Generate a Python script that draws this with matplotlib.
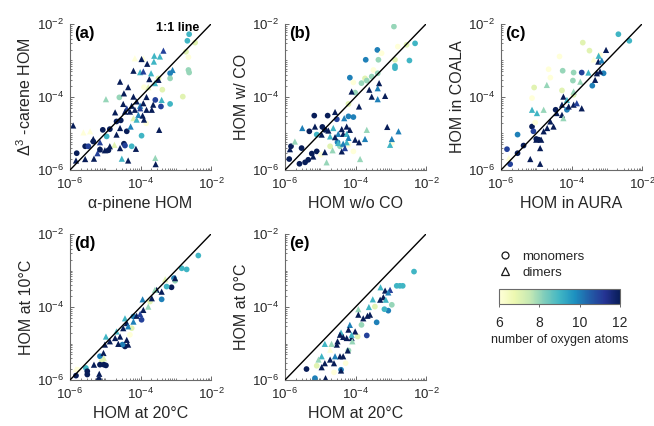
import numpy as np
import matplotlib
matplotlib.use("Agg")
import matplotlib.pyplot as plt
from matplotlib.ticker import FixedLocator, LogLocator, NullFormatter, LogFormatterSciNotation
from matplotlib.lines import Line2D

plt.rcParams['font.family'] = ['Liberation Sans', 'DejaVu Sans']
plt.rcParams['mathtext.fontset'] = 'custom'
plt.rcParams['mathtext.rm'] = 'Liberation Sans'
plt.rcParams['mathtext.it'] = 'Liberation Sans:italic'
plt.rcParams['mathtext.bf'] = 'Liberation Sans:bold'

# Each row: (log10 of x signal, log10 of y signal, number of oxygen atoms)
a_monomers = [
    (-2.62, -2.28, 9), (-2.67, -2.46, 9), (-2.45, -2.51, 7), (-2.71, -2.76, 7),
    (-2.64, -2.91, 6), (-2.64, -3.26, 8), (-2.62, -3.33, 8), (-3.16, -3.35, 10),
    (-3.16, -3.49, 8), (-3.49, -3.49, 7), (-3.90, -3.73, 6), (-3.38, -3.80, 7),
    (-2.80, -3.99, 7), (-4.60, -4.01, 8), (-3.58, -4.08, 11), (-3.16, -4.19, 9),
    (-3.42, -4.26, 11), (-4.56, -4.64, 12), (-4.68, -4.67, 12), (-3.84, -4.72, 6),
    (-4.39, -4.94, 12), (-4.87, -4.88, 12), (-5.07, -4.90, 12), (-4.96, -5.08, 9),
    (-3.97, -5.06, 9), (-5.81, -5.54, 12), (-5.57, -5.35, 12), (-5.48, -5.35, 11),
    (-5.34, -5.22, 12), (-5.15, -5.44, 12), (-4.91, -5.46, 12), (-4.47, -5.28, 12),
    (-4.44, -5.33, 11), (-4.25, -5.35, 9),
]
a_dimers = [
    (-3.35, -2.73, 11), (-3.61, -2.87, 9), (-3.45, -2.89, 9), (-4.16, -2.94, 6),
    (-3.92, -2.94, 6), (-3.97, -2.96, 12), (-3.81, -3.09, 12), (-3.62, -3.03, 9),
    (-3.09, -3.26, 10), (-4.20, -3.28, 12), (-4.01, -3.32, 9), (-3.92, -3.30, 11),
    (-4.58, -3.58, 12), (-3.75, -3.51, 12), (-3.70, -3.35, 9), (-3.49, -3.53, 12),
    (-3.59, -3.62, 9), (-3.78, -3.73, 7), (-4.35, -3.73, 12), (-4.98, -4.06, 8),
    (-4.47, -3.90, 12), (-4.20, -3.99, 12), (-3.83, -4.00, 12), (-3.40, -4.08, 9),
    (-3.64, -4.21, 12), (-4.49, -4.19, 12), (-4.39, -4.31, 11), (-4.25, -4.24, 12),
    (-4.11, -4.12, 12), (-4.01, -4.24, 10), (-3.92, -4.17, 12), (-4.44, -4.40, 12),
    (-4.30, -4.40, 12), (-4.16, -4.35, 12), (-4.01, -4.31, 11), (-3.83, -4.35, 12),
    (-3.68, -4.35, 12), (-4.72, -4.42, 12), (-4.06, -4.49, 10), (-4.20, -4.58, 7),
    (-4.11, -4.62, 9), (-3.94, -4.51, 12), (-3.90, -4.62, 12), (-3.47, -4.90, 12),
    (-4.28, -4.81, 10), (-4.58, -4.85, 12), (-5.91, -4.78, 12), (-5.62, -4.97, 6),
    (-5.43, -4.94, 6), (-5.34, -5.15, 12), (-5.15, -5.24, 11), (-4.68, -5.03, 12),
    (-4.74, -5.31, 7), (-4.87, -5.35, 12), (-5.15, -5.43, 12), (-5.01, -5.46, 12),
    (-4.58, -5.40, 12), (-4.13, -5.42, 12), (-5.83, -5.74, 12), (-5.57, -5.70, 12),
    (-5.32, -5.69, 12), (-5.22, -5.54, 11), (-4.53, -5.69, 9), (-4.35, -5.74, 12),
    (-3.58, -5.67, 8), (-3.57, -5.84, 12),
]

b_monomers = [
    (-2.91, -2.07, 8), (-2.80, -2.62, 6), (-2.55, -2.57, 7), (-2.31, -2.53, 9),
    (-3.38, -2.71, 10), (-3.26, -2.80, 6), (-3.71, -2.98, 10), (-3.35, -2.98, 8),
    (-2.88, -2.98, 7), (-2.47, -3.00, 9), (-2.88, -3.15, 9), (-2.88, -3.21, 9),
    (-3.49, -3.26, 6), (-3.37, -3.35, 8), (-3.54, -3.44, 8), (-3.73, -3.49, 7),
    (-4.16, -3.47, 10), (-4.06, -3.60, 6), (-3.83, -3.62, 8), (-3.68, -3.55, 8),
    (-4.01, -3.88, 8), (-4.20, -4.19, 7), (-5.17, -4.51, 12), (-4.79, -4.51, 12),
    (-4.53, -4.61, 11), (-4.20, -4.53, 10), (-4.06, -4.55, 10), (-5.31, -4.94, 12),
    (-4.94, -4.82, 12), (-4.87, -4.90, 12), (-5.10, -5.03, 9), (-5.83, -5.35, 12),
    (-5.53, -5.40, 12), (-5.88, -5.70, 12), (-5.59, -5.83, 12), (-5.43, -5.79, 12),
    (-5.34, -5.72, 12), (-5.24, -5.55, 12), (-5.10, -5.49, 12), (-4.72, -5.35, 7),
    (-4.98, -5.58, 6), (-4.51, -5.24, 10), (-4.44, -5.35, 8), (-4.20, -5.31, 6),
    (-4.06, -5.49, 6), (-2.97, -5.26, 6),
]
b_dimers = [
    (-4.11, -3.85, 12), (-3.61, -3.80, 12), (-3.33, -3.62, 12), (-3.37, -3.76, 10),
    (-3.54, -3.99, 12), (-3.16, -3.97, 12), (-3.37, -4.06, 10), (-3.90, -4.26, 12),
    (-4.58, -4.41, 12), (-4.32, -4.58, 10), (-5.51, -4.85, 10), (-5.15, -4.81, 12),
    (-4.77, -4.92, 12), (-4.63, -4.85, 9), (-4.39, -4.88, 12), (-4.25, -4.81, 12),
    (-4.16, -4.90, 12), (-4.49, -5.01, 10), (-4.35, -5.01, 12), (-4.25, -5.01, 9),
    (-3.68, -4.90, 8), (-4.96, -5.03, 12), (-4.72, -5.08, 9), (-4.58, -5.10, 12),
    (-4.20, -5.12, 10), (-4.25, -5.24, 9), (-4.49, -5.26, 9), (-4.35, -5.28, 10),
    (-4.01, -5.17, 12), (-3.90, -5.24, 12), (-3.73, -5.15, 10), (-3.10, -4.82, 12),
    (-2.78, -4.94, 10), (-2.97, -5.15, 10), (-3.02, -5.31, 9), (-5.72, -5.22, 8),
    (-5.86, -5.43, 12), (-4.65, -5.46, 8), (-4.87, -5.51, 12), (-5.20, -5.63, 12),
    (-4.39, -5.49, 12), (-4.30, -5.40, 11), (-4.82, -5.79, 8), (-3.87, -5.70, 8),
]

c_monomers = [
    (-2.67, -2.28, 9), (-2.36, -2.46, 9), (-3.68, -2.51, 7), (-3.49, -2.73, 7),
    (-4.34, -2.89, 6), (-3.19, -2.85, 6), (-4.65, -3.24, 6), (-4.60, -3.47, 6),
    (-4.25, -3.28, 8), (-3.94, -3.33, 8), (-3.96, -3.55, 8), (-3.71, -3.33, 11),
    (-3.41, -3.69, 10), (-5.06, -3.74, 7), (-5.12, -4.03, 6), (-4.27, -3.82, 7),
    (-3.94, -3.94, 7), (-4.45, -4.35, 12), (-5.12, -4.81, 12), (-5.08, -4.94, 11),
    (-5.53, -5.03, 10), (-5.00, -5.15, 12), (-4.93, -5.17, 12), (-5.36, -5.33, 12),
    (-5.83, -5.43, 11), (-5.53, -5.54, 12), (-5.74, -5.84, 11), (-4.13, -4.35, 10),
    (-3.09, -3.35, 10), (-5.03, -4.70, 6),
]
c_dimers = [
    (-3.02, -2.71, 12), (-3.23, -2.87, 9), (-3.37, -2.97, 6), (-3.24, -3.03, 12),
    (-3.14, -3.00, 10), (-3.52, -3.33, 9), (-3.28, -3.35, 12), (-3.19, -3.30, 12),
    (-3.75, -3.58, 8), (-3.33, -3.53, 12), (-4.70, -3.67, 8), (-5.12, -4.35, 9),
    (-4.98, -4.44, 9), (-4.79, -4.35, 8), (-4.23, -3.99, 12), (-4.13, -4.08, 9),
    (-3.94, -3.85, 8), (-4.08, -4.26, 12), (-4.27, -4.21, 12), (-3.94, -4.21, 12),
    (-3.85, -4.17, 11), (-3.71, -4.31, 12), (-4.42, -4.44, 12), (-4.27, -4.49, 12),
    (-4.23, -4.58, 8), (-4.60, -4.67, 12), (-4.69, -4.85, 12), (-4.51, -4.81, 12),
    (-4.79, -4.94, 12), (-5.00, -5.17, 12), (-4.86, -5.17, 12), (-4.89, -5.40, 12),
    (-5.17, -5.70, 12), (-4.89, -5.83, 12), (-5.78, -5.67, 6),
]

d_monomers = [
    (-2.36, -2.59, 9), (-2.83, -2.94, 9), (-2.69, -2.97, 9), (-3.05, -3.21, 10),
    (-3.02, -3.28, 8), (-3.12, -3.46, 12), (-3.26, -3.44, 9), (-3.40, -3.79, 10),
    (-3.73, -3.85, 7), (-3.97, -4.35, 11), (-4.20, -4.26, 10), (-4.25, -4.58, 7),
    (-4.30, -4.76, 6), (-4.44, -5.08, 12), (-4.51, -5.03, 10), (-5.15, -5.35, 10),
    (-5.10, -5.49, 7), (-5.04, -5.58, 12), (-5.15, -5.58, 12), (-4.98, -5.60, 12),
    (-5.55, -5.67, 9), (-5.51, -5.76, 12), (-5.51, -5.85, 12), (-5.83, -5.88, 12),
    (-5.18, -5.99, 12), (-5.78, -5.72, 6),
]
d_dimers = [
    (-3.02, -3.21, 12), (-3.30, -3.24, 7), (-3.54, -3.53, 12), (-3.40, -3.58, 12),
    (-3.59, -3.53, 8), (-3.68, -3.76, 12), (-3.94, -3.79, 10), (-3.78, -3.99, 8),
    (-3.92, -4.08, 12), (-4.11, -4.24, 12), (-4.01, -4.19, 11), (-4.20, -4.40, 10),
    (-4.39, -4.44, 12), (-4.49, -4.58, 12), (-4.35, -4.53, 10), (-4.44, -4.31, 9),
    (-4.68, -4.67, 9), (-4.98, -4.81, 9), (-4.72, -4.85, 12), (-4.58, -4.81, 12),
    (-4.39, -4.90, 12), (-4.35, -5.03, 12), (-4.63, -5.01, 12), (-4.87, -4.94, 12),
    (-5.01, -5.03, 12), (-5.05, -5.26, 12), (-5.04, -5.40, 7), (-5.32, -5.58, 12),
    (-5.17, -5.83, 12), (-5.83, -5.70, 6),
]

e_monomers = [
    (-2.34, -3.03, 9), (-2.83, -3.42, 9), (-2.74, -3.42, 9), (-2.66, -3.42, 9),
    (-2.97, -3.94, 8), (-3.07, -4.10, 10), (-3.18, -4.06, 9), (-3.45, -3.99, 7),
    (-3.40, -4.42, 10), (-3.68, -4.78, 11), (-3.94, -4.81, 7), (-4.20, -5.19, 8),
    (-4.28, -5.54, 6), (-4.41, -5.72, 10), (-4.61, -5.79, 6), (-5.39, -5.70, 12),
    (-5.15, -5.95, 10), (-5.10, -5.61, 7), (-3.83, -4.49, 8),
]
e_dimers = [
    (-3.29, -3.46, 9), (-3.16, -3.55, 12), (-3.02, -3.53, 11), (-3.07, -3.60, 10),
    (-3.21, -3.73, 12), (-3.51, -3.79, 9), (-3.30, -3.80, 12), (-3.14, -3.80, 9),
    (-3.62, -4.00, 9), (-3.92, -4.06, 8), (-3.92, -4.21, 12), (-3.66, -4.24, 12),
    (-3.59, -4.21, 12), (-3.78, -4.31, 12), (-4.16, -4.49, 10), (-4.41, -4.70, 9),
    (-4.20, -4.62, 12), (-4.01, -4.67, 12), (-4.11, -4.85, 12), (-4.25, -4.85, 12),
    (-4.35, -4.82, 12), (-4.44, -4.76, 12), (-4.09, -4.94, 8), (-4.11, -4.76, 9),
    (-4.53, -5.03, 12), (-4.87, -5.01, 9), (-4.68, -5.01, 8), (-4.51, -4.94, 12),
    (-4.72, -5.17, 6), (-4.22, -5.19, 12), (-4.44, -5.35, 12), (-4.35, -5.35, 12),
    (-4.58, -5.35, 10), (-4.72, -5.44, 12), (-4.96, -5.35, 9), (-5.05, -5.44, 8),
    (-4.87, -5.54, 12), (-4.61, -5.54, 12), (-4.96, -5.65, 12), (-4.41, -5.74, 12),
    (-4.85, -5.95, 12),
]

panel_tags = ['(a)', '(b)', '(c)', '(d)', '(e)']
x_labels = ['α-pinene HOM', 'HOM w/o CO', 'HOM in AURA', 'HOM at 20°C', 'HOM at 20°C']
y_labels = [r'$\Delta^{3}$ -carene HOM', 'HOM w/ CO', 'HOM in COALA',
            'HOM at 10°C', 'HOM at 0°C']
monomer_sets = [a_monomers, b_monomers, c_monomers, d_monomers, e_monomers]
dimer_sets = [a_dimers, b_dimers, c_dimers, d_dimers, e_dimers]

cbar_ticks = [6, 8, 10, 12]
oxygen_range = (6, 12)

W, H = 654, 426
fig = plt.figure(figsize=(W / 100, H / 100), dpi=100)

ax_w, ax_h = 141 / W, 146 / H
lefts = [70 / W, 285 / W, 501 / W, 70 / W, 285 / W]
bottoms = [1 - 170 / H] * 3 + [1 - 380 / H] * 2

spine_col = '#6a6a6a'
text_col = '#262626'
cmap = plt.get_cmap('YlGnBu')

sc = None
for i in range(5):
    ax = fig.add_axes([lefts[i], bottoms[i], ax_w, ax_h])
    ax.set_xscale('log')
    ax.set_yscale('log')
    ax.set_xlim(1e-6, 1e-2)
    ax.set_ylim(1e-6, 1e-2)

    mono = np.array(monomer_sets[i], dtype=float)
    dim = np.array(dimer_sets[i], dtype=float)
    ax.scatter(10 ** mono[:, 0], 10 ** mono[:, 1], c=mono[:, 2], cmap=cmap,
               vmin=oxygen_range[0], vmax=oxygen_range[1], marker='o', s=17,
               linewidths=0, zorder=2)
    sc = ax.scatter(10 ** dim[:, 0], 10 ** dim[:, 1], c=dim[:, 2], cmap=cmap,
                    vmin=oxygen_range[0], vmax=oxygen_range[1], marker='^', s=20,
                    linewidths=0, zorder=2)
    ax.plot([1e-6, 1e-2], [1e-6, 1e-2], color='k', lw=1.0, zorder=3)

    for side in ('top', 'right'):
        ax.spines[side].set_visible(False)
    for side in ('left', 'bottom'):
        ax.spines[side].set_color(spine_col)
        ax.spines[side].set_linewidth(0.8)

    for axis in (ax.xaxis, ax.yaxis):
        axis.set_major_locator(FixedLocator([1e-6, 1e-4, 1e-2]))
        axis.set_major_formatter(LogFormatterSciNotation())
        axis.set_minor_locator(LogLocator(base=10, subs=np.arange(1, 10), numticks=20))
        axis.set_minor_formatter(NullFormatter())
    ax.tick_params(which='both', direction='in', color=spine_col,
                   labelcolor=text_col, labelsize=9.5)
    ax.tick_params(which='major', length=3, width=0.7)
    ax.tick_params(which='minor', length=1.7, width=0.6)
    ax.tick_params(axis='x', pad=5)
    ax.tick_params(axis='y', pad=4)

    ax.set_xlabel(x_labels[i], fontsize=11.5, color=text_col, labelpad=3)
    ax.set_ylabel(y_labels[i], fontsize=11.5, color=text_col, labelpad=2)
    ax.text(0.03, 0.985, panel_tags[i], transform=ax.transAxes, fontsize=12,
            fontweight='bold', color='k', ha='left', va='top')
    if i == 0:
        ax.text(0.915, 0.975, '1:1 line', transform=ax.transAxes, fontsize=9,
                fontweight='bold', color='k', ha='right', va='center')

# colour bar for the oxygen count
cax = fig.add_axes([499 / W, 1 - 304 / H, 121 / W, 15 / H])
cb = fig.colorbar(sc, cax=cax, orientation='horizontal', ticks=cbar_ticks)
cb.outline.set_edgecolor(spine_col)
cb.outline.set_linewidth(0.8)
cax.tick_params(direction='out', length=2.5, width=0.7, color=spine_col,
                labelcolor=text_col, labelsize=10, pad=6)
cb.set_label('number of oxygen atoms', fontsize=9, color=text_col, labelpad=3)

# marker legend
handles = [
    Line2D([], [], ls='none', marker='o', mfc='none', mec='#1a1a1a', mew=0.9, ms=5),
    Line2D([], [], ls='none', marker='^', mfc='none', mec='#1a1a1a', mew=0.9, ms=5.5),
]
fig.legend(handles, ['monomers', 'dimers'], loc='upper left',
           bbox_to_anchor=(492 / W, 1 - 244 / H), frameon=False, fontsize=9.5,
           handlelength=1.0, handletextpad=0.8, labelspacing=0.3, borderpad=0,
           labelcolor=text_col)

fig.savefig('out.png', dpi=100)
